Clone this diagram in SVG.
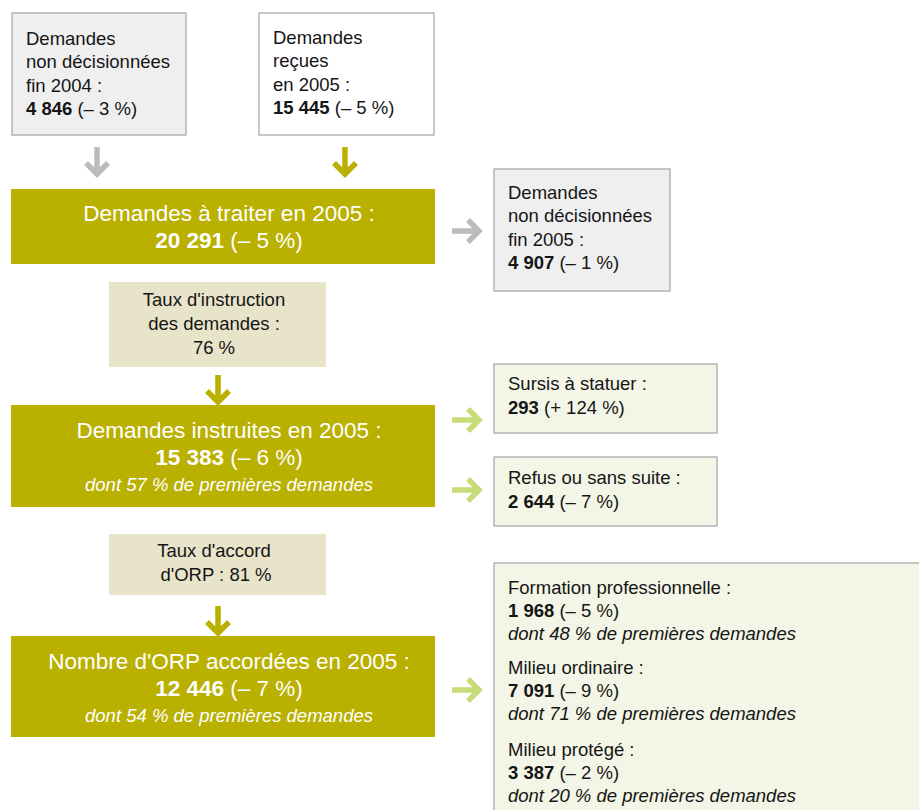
<svg xmlns="http://www.w3.org/2000/svg" width="919" height="810" viewBox="0 0 919 810">
<style>
text{font-family:"Liberation Sans",Arial,Helvetica,sans-serif;fill:#151515;font-size:18.5px}
.b{font-weight:bold}
.i{font-style:italic}
.big{fill:#fff;font-size:22.5px;text-anchor:middle}
.bigi{fill:#fff;font-size:18.5px;font-style:italic;text-anchor:middle}
.c{text-anchor:middle}
.gray{fill:#efefef;stroke:#aaaaaa;stroke-width:1.3}
.white{fill:#fff;stroke:#aaaaaa;stroke-width:1.3}
.green{fill:#f3f6e6;stroke:#aaaaaa;stroke-width:1.3}
.olive{fill:#b9b000}
.beige{fill:#e8e4c9}
.arr{fill:none;stroke-width:5.5;stroke-linejoin:miter;stroke-linecap:butt}
</style>
<defs>
<path id="ad" d="M0,-15 V12 M-11,1 L0,12 L11,1"/>
<path id="ar" d="M-15,0 H12 M1,-11 L12,0 L1,11"/>
</defs>
<g id="n1">
<rect class="gray" x="12" y="13" width="174" height="122"/>
<text x="26" y="45">Demandes</text>
<text x="26" y="68">non décisionnées</text>
<text x="26" y="92">fin 2004 :</text>
<text x="26" y="115"><tspan class="b">4 846</tspan> (– 3 %)</text>
</g>
<g id="n2">
<rect class="white" x="259" y="13" width="175" height="122"/>
<text x="273" y="44">Demandes</text>
<text x="273" y="67">reçues</text>
<text x="273" y="91">en 2005 :</text>
<text x="273" y="114"><tspan class="b">15 445</tspan> (– 5 %)</text>
</g>
<g id="n3">
<rect class="olive" x="11" y="189" width="424" height="75"/>
<text class="big" x="229" y="221">Demandes à traiter en 2005 :</text>
<text class="big" x="229" y="248"><tspan class="b">20 291</tspan> (– 5 %)</text>
</g>
<g id="n4">
<rect class="gray" x="494" y="169" width="176" height="122"/>
<text x="508" y="199">Demandes</text>
<text x="508" y="222">non décisionnées</text>
<text x="508" y="246">fin 2005 :</text>
<text x="508" y="269"><tspan class="b">4 907</tspan> (– 1 %)</text>
</g>
<g id="n5">
<rect class="beige" x="109" y="282" width="217" height="85"/>
<text class="c" x="214" y="306">Taux d'instruction</text>
<text class="c" x="214" y="330">des demandes :</text>
<text class="c" x="214" y="354">76 %</text>
</g>
<g id="n6">
<rect class="olive" x="11" y="405" width="424" height="102"/>
<text class="big" x="229" y="438">Demandes instruites en 2005 :</text>
<text class="big" x="229" y="465"><tspan class="b">15 383</tspan> (– 6 %)</text>
<text class="bigi" x="229" y="491">dont 57 % de premières demandes</text>
</g>
<g id="n7">
<rect class="green" x="494" y="364" width="223" height="69"/>
<text x="508" y="390">Sursis à statuer :</text>
<text x="508" y="414"><tspan class="b">293</tspan> (+ 124 %)</text>
</g>
<g id="n8">
<rect class="green" x="494" y="457" width="223" height="69"/>
<text x="508" y="484">Refus ou sans suite :</text>
<text x="508" y="508"><tspan class="b">2 644</tspan> (– 7 %)</text>
</g>
<g id="n9">
<rect class="beige" x="109" y="534" width="217" height="61"/>
<text class="c" x="214" y="557">Taux d'accord</text>
<text class="c" x="216" y="581">d'ORP : 81 %</text>
</g>
<g id="n10">
<rect class="olive" x="11" y="636" width="424" height="101"/>
<text class="big" x="229" y="669">Nombre d'ORP accordées en 2005 :</text>
<text class="big" x="229" y="696"><tspan class="b">12 446</tspan> (– 7 %)</text>
<text class="bigi" x="229" y="722">dont 54 % de premières demandes</text>
</g>
<g id="n11">
<rect class="green" x="494" y="563" width="440" height="260"/>
<text x="508" y="594">Formation professionnelle :</text>
<text x="508" y="617"><tspan class="b">1 968</tspan> (– 5 %)</text>
<text class="i" x="508" y="640">dont 48 % de premières demandes</text>
<text x="508" y="674">Milieu ordinaire :</text>
<text x="508" y="697"><tspan class="b">7 091</tspan> (– 9 %)</text>
<text class="i" x="508" y="720">dont 71 % de premières demandes</text>
<text x="508" y="756">Milieu protégé :</text>
<text x="508" y="779"><tspan class="b">3 387</tspan> (– 2 %)</text>
<text class="i" x="508" y="802">dont 20 % de premières demandes</text>
</g>
<g id="connectors">
<use href="#ad" class="arr" stroke="#bbbbbb" transform="translate(97,162)"/>
<use href="#ad" class="arr" stroke="#b9b000" transform="translate(345,162)"/>
<use href="#ar" class="arr" stroke="#bbbbbb" transform="translate(467,231)"/>
<use href="#ad" class="arr" stroke="#b9b000" transform="translate(218,390)"/>
<use href="#ar" class="arr" stroke="#c8dc78" transform="translate(467,420)"/>
<use href="#ar" class="arr" stroke="#c8dc78" transform="translate(467,490)"/>
<use href="#ad" class="arr" stroke="#b9b000" transform="translate(218,621)"/>
<use href="#ar" class="arr" stroke="#c8dc78" transform="translate(467,690)"/>
</g>
</svg>
